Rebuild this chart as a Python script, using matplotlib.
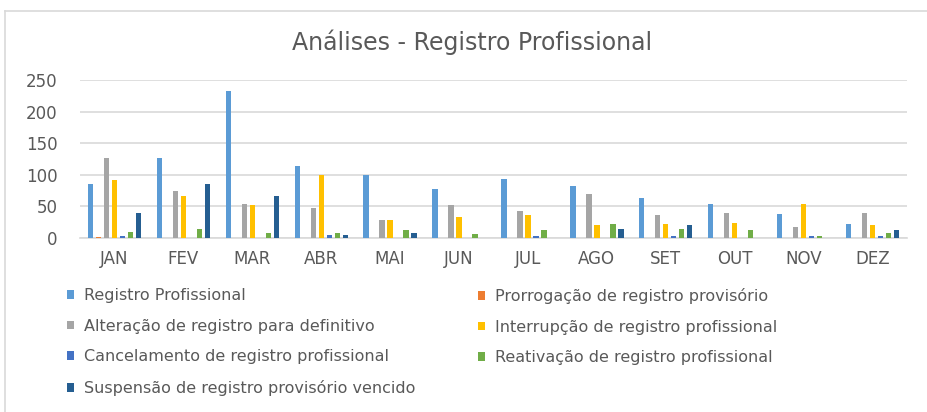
import numpy as np
import matplotlib
matplotlib.use("Agg")
from matplotlib import pyplot as plt
from matplotlib.lines import Line2D

plt.rcParams['font.family'] = ['DejaVu Sans']

months = ["JAN", "FEV", "MAR", "ABR", "MAI", "JUN", "JUL", "AGO", "SET", "OUT", "NOV", "DEZ"]

seriesNames = [
    "Registro Profissional",
    "Prorrogação de registro provisório",
    "Alteração de registro para definitivo",
    "Interrupção de registro profissional",
    "Cancelamento de registro profissional",
    "Reativação de registro profissional",
    "Suspensão de registro provisório vencido",
]

registro = [85, 126, 233, 114, 100, 78, 93, 82, 64, 54, 38, 22]
prorrogacao = [2, 0, 0, 0, 0, 0, 0, 0, 0, 0, 0, 0]
alteracao = [126, 75, 54, 48, 29, 52, 43, 70, 36, 40, 17, 39]
interrupcao = [92, 66, 52, 99, 29, 34, 36, 20, 22, 24, 54, 20]
cancelamento = [3, 0, 0, 5, 0, 0, 3, 0, 3, 0, 3, 3]
reativacao = [10, 15, 8, 8, 13, 6, 13, 22, 15, 13, 3, 8]
suspensao = [40, 85, 66, 4, 8, 0, 0, 15, 20, 0, 0, 13]

colors = ["#5B9BD5", "#ED7D31", "#A5A5A5", "#FFC000", "#4472C4", "#70AD47", "#255E91"]
textGray = "#595959"

allSeries = [registro, prorrogacao, alteracao, interrupcao, cancelamento, reativacao, suspensao]

fig = plt.figure(figsize=(9.28, 4.12), dpi=100)
fig.patch.set_facecolor("white")

# light chart frame: only top and left edges show in the picture
frameTop = 1 - 10.5 / 412
frameLeft = 5 / 928
fig.add_artist(Line2D([frameLeft, 1], [frameTop, frameTop], transform=fig.transFigure,
                      color="#D9D9D9", linewidth=1.2))
fig.add_artist(Line2D([frameLeft, frameLeft], [0, frameTop], transform=fig.transFigure,
                      color="#D9D9D9", linewidth=1.2))

ax = fig.add_axes([80 / 928, 1 - 238 / 412, 827 / 928, 158 / 412])

x = np.arange(len(months))
step = 0.116
width = 0.077
handles = []
for i, (vals, col) in enumerate(zip(allSeries, colors)):
    b = ax.bar(x + (i - 3) * step, vals, width, color=col, label=seriesNames[i], zorder=3)
    handles.append(b)

ax.set_xlim(-0.5, 11.5)
ax.set_ylim(0, 250)
ax.set_yticks([0, 50, 100, 150, 200, 250])
ax.yaxis.grid(True, color="#D9D9D9", linewidth=1.2, zorder=0)
for s in ["top", "right", "left"]:
    ax.spines[s].set_visible(False)
ax.spines["bottom"].set_color("#D9D9D9")
ax.spines["bottom"].set_linewidth(1.2)
ax.set_xticks(x)
ax.set_xticklabels(months)
ax.tick_params(axis="both", length=0, colors=textGray, labelsize=12)
ax.tick_params(axis="x", pad=9)
ax.tick_params(axis="y", pad=16)

fig.text(472 / 928, 1 - 42 / 412, "Análises - Registro Profissional", ha="center", va="center",
         fontsize=17, color=textGray)

# two legend columns placed separately
legKw = dict(loc="upper left", frameon=False, fontsize=11.5, labelcolor=textGray,
             handlelength=0.45, handleheight=0.45, handletextpad=0.6, labelspacing=0.98,
             borderpad=0, borderaxespad=0)
col1 = [0, 2, 4, 6]
col2 = [1, 3, 5]
fig.legend([handles[k] for k in col1], [seriesNames[k] for k in col1],
           bbox_to_anchor=(67 / 928, 1 - 288 / 412), **legKw)
fig.legend([handles[k] for k in col2], [seriesNames[k] for k in col2],
           bbox_to_anchor=(478 / 928, 1 - 288 / 412), **legKw)

fig.savefig("out.png", dpi=100)
